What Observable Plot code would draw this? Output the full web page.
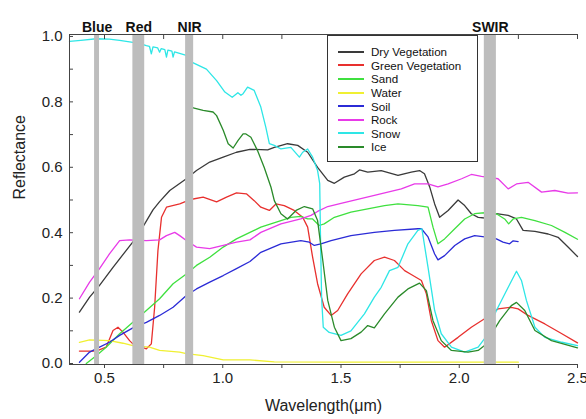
<!DOCTYPE html>
<html><head><meta charset="utf-8">
<script src="https://cdn.jsdelivr.net/npm/d3@7"></script>
<script src="https://cdn.jsdelivr.net/npm/@observablehq/plot@0.6"></script>
<style>
body{margin:0;background:#fff;font-family:"Liberation Sans",Arial,sans-serif;}
#wrap{position:relative;width:586px;height:419px;overflow:hidden;}
#legend{position:absolute;left:327px;top:35px;width:151px;height:127px;border:1px solid #333;background:#fff;box-sizing:border-box;padding-top:9px;}
.row{height:13.6px;display:flex;align-items:center;font-size:11.6px;color:#111;}
.row svg{margin-left:10px;margin-right:7px;}
</style></head>
<body><div id="wrap"></div>
<script>
// ---- data ----
const seriesNames = ["Dry Vegetation","Green Vegetation","Sand","Water","Soil","Rock","Snow","Ice"];
const seriesColors = ["#3a3a3a","#e8302e","#3fe03f","#f0f032","#2b2bd6","#e83ae8","#2ee6e6","#2a8a2a"];

const dryVegetation = [[0.394,0.157],[0.437,0.203],[0.479,0.239],[0.536,0.294],[0.592,0.346],[0.635,0.386],[0.67,0.427],[0.705,0.47],[0.733,0.495],[0.776,0.529],[0.846,0.565],[0.889,0.59],[0.945,0.616],[1.002,0.631],[1.058,0.646],[1.115,0.655],[1.19,0.653],[1.218,0.661],[1.274,0.672],[1.317,0.667],[1.359,0.646],[1.401,0.60],[1.444,0.56],[1.472,0.551],[1.514,0.57],[1.557,0.58],[1.578,0.592],[1.613,0.585],[1.67,0.59],[1.741,0.575],[1.797,0.585],[1.832,0.59],[1.853,0.58],[1.875,0.54],[1.896,0.488],[1.917,0.447],[1.953,0.468],[1.995,0.50],[2.023,0.483],[2.051,0.458],[2.08,0.447],[2.107,0.445],[2.157,0.458],[2.207,0.453],[2.242,0.442],[2.27,0.407],[2.32,0.404],[2.376,0.396],[2.418,0.386],[2.46,0.356],[2.5,0.327]];

const greenVegetation = [[0.394,0.038],[0.465,0.038],[0.507,0.05],[0.536,0.101],[0.557,0.111],[0.578,0.096],[0.606,0.07],[0.62,0.06],[0.677,0.045],[0.698,0.06],[0.712,0.172],[0.726,0.346],[0.741,0.447],[0.762,0.478],[0.818,0.488],[0.839,0.494],[0.875,0.503],[0.917,0.509],[0.974,0.494],[1.016,0.509],[1.058,0.522],[1.1,0.519],[1.133,0.498],[1.161,0.478],[1.197,0.468],[1.225,0.488],[1.26,0.483],[1.302,0.468],[1.338,0.447],[1.359,0.417],[1.38,0.325],[1.401,0.244],[1.429,0.172],[1.458,0.147],[1.486,0.162],[1.528,0.213],[1.585,0.274],[1.641,0.315],[1.684,0.325],[1.726,0.315],[1.769,0.284],[1.797,0.272],[1.84,0.254],[1.861,0.213],[1.882,0.131],[1.91,0.07],[1.938,0.05],[1.995,0.08],[2.051,0.111],[2.107,0.137],[2.164,0.167],[2.22,0.172],[2.249,0.167],[2.291,0.147],[2.362,0.121],[2.434,0.091],[2.5,0.063]];

const sand = [[0.423,0.0],[0.465,0.024],[0.507,0.05],[0.564,0.091],[0.62,0.126],[0.677,0.162],[0.733,0.198],[0.79,0.244],[0.846,0.274],[0.889,0.30],[0.945,0.325],[1.002,0.356],[1.058,0.381],[1.115,0.401],[1.161,0.417],[1.246,0.437],[1.288,0.447],[1.33,0.45],[1.359,0.442],[1.38,0.442],[1.408,0.422],[1.429,0.427],[1.472,0.447],[1.542,0.463],[1.613,0.473],[1.684,0.483],[1.741,0.488],[1.825,0.483],[1.868,0.478],[1.889,0.417],[1.91,0.366],[1.938,0.381],[1.981,0.412],[2.023,0.442],[2.065,0.458],[2.107,0.461],[2.157,0.458],[2.192,0.442],[2.209,0.427],[2.228,0.442],[2.263,0.447],[2.32,0.437],[2.39,0.422],[2.447,0.401],[2.5,0.38]];

const water = [[0.394,0.065],[0.437,0.072],[0.521,0.07],[0.578,0.062],[0.62,0.055],[0.69,0.05],[0.733,0.04],[0.818,0.035],[0.846,0.03],[0.917,0.024],[1.002,0.011],[1.115,0.011],[1.218,0.005],[1.5,0.004],[2.0,0.004],[2.25,0.004]];

const soil = [[0.394,0.004],[0.437,0.035],[0.479,0.05],[0.521,0.065],[0.564,0.086],[0.62,0.109],[0.677,0.126],[0.733,0.147],[0.79,0.172],[0.846,0.208],[0.889,0.228],[0.945,0.249],[1.002,0.269],[1.058,0.29],[1.115,0.312],[1.161,0.34],[1.246,0.366],[1.33,0.376],[1.366,0.371],[1.387,0.361],[1.415,0.366],[1.458,0.376],[1.542,0.391],[1.641,0.401],[1.726,0.407],[1.825,0.412],[1.84,0.412],[1.868,0.387],[1.896,0.335],[1.91,0.317],[1.938,0.33],[1.981,0.361],[2.023,0.381],[2.065,0.391],[2.107,0.387],[2.157,0.381],[2.185,0.371],[2.213,0.366],[2.228,0.375],[2.249,0.373]];

const rock = [[0.394,0.198],[0.437,0.249],[0.479,0.29],[0.521,0.335],[0.564,0.376],[0.606,0.378],[0.677,0.376],[0.733,0.378],[0.762,0.391],[0.797,0.401],[0.818,0.391],[0.846,0.376],[0.889,0.356],[0.945,0.351],[1.002,0.361],[1.058,0.371],[1.115,0.378],[1.161,0.401],[1.246,0.427],[1.33,0.442],[1.373,0.453],[1.401,0.465],[1.444,0.48],[1.50,0.49],[1.641,0.514],[1.755,0.534],[1.811,0.549],[1.868,0.549],[1.91,0.54],[1.953,0.549],[2.01,0.565],[2.051,0.578],[2.094,0.572],[2.164,0.565],[2.207,0.534],[2.242,0.549],[2.291,0.554],[2.348,0.524],[2.404,0.529],[2.46,0.521],[2.5,0.522]];

const snow = [[0.352,0.985],[0.40,0.988],[0.465,0.993],[0.52,0.992],[0.564,0.988],[0.613,0.983],[0.65,0.978],[0.677,0.972],[0.69,0.97],[0.698,0.947],[0.705,0.968],[0.725,0.965],[0.733,0.952],[0.74,0.963],[0.755,0.96],[0.762,0.937],[0.768,0.958],[0.785,0.955],[0.79,0.937],[0.796,0.953],[0.846,0.942],[0.873,0.92],[0.931,0.90],[0.974,0.865],[1.009,0.83],[1.04,0.814],[1.064,0.828],[1.077,0.82],[1.086,0.825],[1.105,0.845],[1.133,0.835],[1.161,0.784],[1.182,0.723],[1.197,0.672],[1.218,0.667],[1.246,0.656],[1.288,0.661],[1.324,0.631],[1.338,0.646],[1.359,0.656],[1.38,0.631],[1.401,0.59],[1.41,0.55],[1.413,0.4],[1.418,0.2],[1.425,0.111],[1.45,0.095],[1.50,0.086],[1.542,0.10],[1.599,0.152],[1.641,0.203],[1.67,0.233],[1.705,0.284],[1.741,0.294],[1.783,0.366],[1.825,0.407],[1.842,0.412],[1.868,0.294],[1.896,0.162],[1.924,0.091],[1.967,0.05],[2.023,0.035],[2.08,0.05],[2.107,0.076],[2.157,0.162],[2.207,0.233],[2.242,0.282],[2.263,0.254],[2.284,0.193],[2.32,0.111],[2.362,0.08],[2.434,0.065],[2.5,0.055]];

const ice = [[0.875,0.782],[0.917,0.774],[0.959,0.769],[0.974,0.758],[1.002,0.713],[1.023,0.672],[1.044,0.659],[1.065,0.682],[1.086,0.702],[1.098,0.702],[1.119,0.692],[1.147,0.651],[1.175,0.60],[1.204,0.539],[1.218,0.498],[1.246,0.458],[1.274,0.442],[1.31,0.468],[1.345,0.48],[1.38,0.473],[1.401,0.437],[1.423,0.315],[1.444,0.193],[1.472,0.111],[1.50,0.07],[1.542,0.076],[1.585,0.096],[1.613,0.116],[1.641,0.109],[1.684,0.152],[1.741,0.203],[1.783,0.228],[1.832,0.246],[1.861,0.223],[1.889,0.131],[1.924,0.07],[1.967,0.04],[2.037,0.035],[2.08,0.04],[2.107,0.055],[2.171,0.131],[2.22,0.177],[2.242,0.187],[2.277,0.162],[2.32,0.101],[2.39,0.07],[2.5,0.048]];

const bandNames = ["Blue","Red","NIR","SWIR"];
const bandStart = [0.458,0.62,0.843,2.106];
const bandEnd = [0.479,0.67,0.877,2.157];

const xMajorTicks = [0.5,1.0,1.5,2.0,2.5];
const xMinorTicks = [0.75,1.25,1.75,2.25];
const yMajorTicks = [0,0.2,0.4,0.6,0.8,1.0];
const yMinorTicks = [0.1,0.3,0.5,0.7,0.9];
const xLabel = "Wavelength(μm)";
const yLabel = "Reflectance";

// ---- build ----
const seriesData = [dryVegetation, greenVegetation, sand, water, soil, rock, snow, ice];
const rows = [];
seriesData.forEach((s, i) => s.forEach(([wl, r]) => rows.push({name: seriesNames[i], wl, r})));
const bands = bandNames.map((n, i) => ({name: n, x1: bandStart[i], x2: bandEnd[i], mid: (bandStart[i] + bandEnd[i]) / 2}));
const blank = () => "";

const chart = Plot.plot({
  width: 586, height: 419,
  marginLeft: 69, marginRight: 9, marginTop: 34, marginBottom: 55,
  style: {fontFamily: '"Liberation Sans", Arial, sans-serif', background: "#fff", color: "#222"},
  x: {domain: [0.352, 2.5]},
  y: {domain: [-0.003, 1.006]},
  color: {domain: seriesNames, range: seriesColors},
  marks: [
    Plot.line(rows, {x: "wl", y: "r", z: "name", stroke: "name", strokeWidth: 1.3}),
    Plot.barX(bands, {x1: "x1", x2: "x2", fill: "#bdbdbd"}),
    Plot.text(bands, {x: "mid", text: "name", frameAnchor: "top", dy: -12, fontSize: 14, fontWeight: "bold", fill: "#111"}),
    Plot.axisY(yMajorTicks, {tickSize: -4, tickPadding: 11, tickFormat: d3.format(".1f"), fontSize: 15, label: null, stroke: "#444"}),
    Plot.axisY(yMinorTicks, {tickSize: -4, tickFormat: blank, label: null, stroke: "#444"}),
    Plot.axisX(xMajorTicks, {tickSize: 4, tickPadding: 4, tickFormat: d3.format(".1f"), fontSize: 15, label: null, stroke: "#444"}),
    Plot.axisX(xMinorTicks, {tickSize: 4, tickFormat: blank, label: null, stroke: "#444"}),
    Plot.axisX(xMajorTicks.concat(xMinorTicks), {anchor: "top", tickSize: -4, tickFormat: blank, label: null, stroke: "#444"}),
    Plot.frame({anchor: "top", stroke: "#444"}),
    Plot.frame({anchor: "left", stroke: "#444"}),
    Plot.frame({anchor: "bottom", stroke: "#444"}),
    Plot.text([yLabel], {frameAnchor: "left", rotate: -90, dx: -50, fontSize: 16, fill: "#222"}),
    Plot.text([xLabel], {frameAnchor: "bottom", dy: 46, fontSize: 16, fill: "#222"})
  ]
});

const wrap = document.getElementById("wrap");
wrap.appendChild(chart);

const legend = document.createElement("div");
legend.id = "legend";
seriesNames.forEach((n, i) => {
  const row = document.createElement("div");
  row.className = "row";
  row.innerHTML = `<svg width="26" height="4"><line x1="0" y1="2" x2="26" y2="2" stroke="${seriesColors[i]}" stroke-width="2"/></svg><span>${n}</span>`;
  legend.appendChild(row);
});
wrap.appendChild(legend);
</script>
</body></html>
